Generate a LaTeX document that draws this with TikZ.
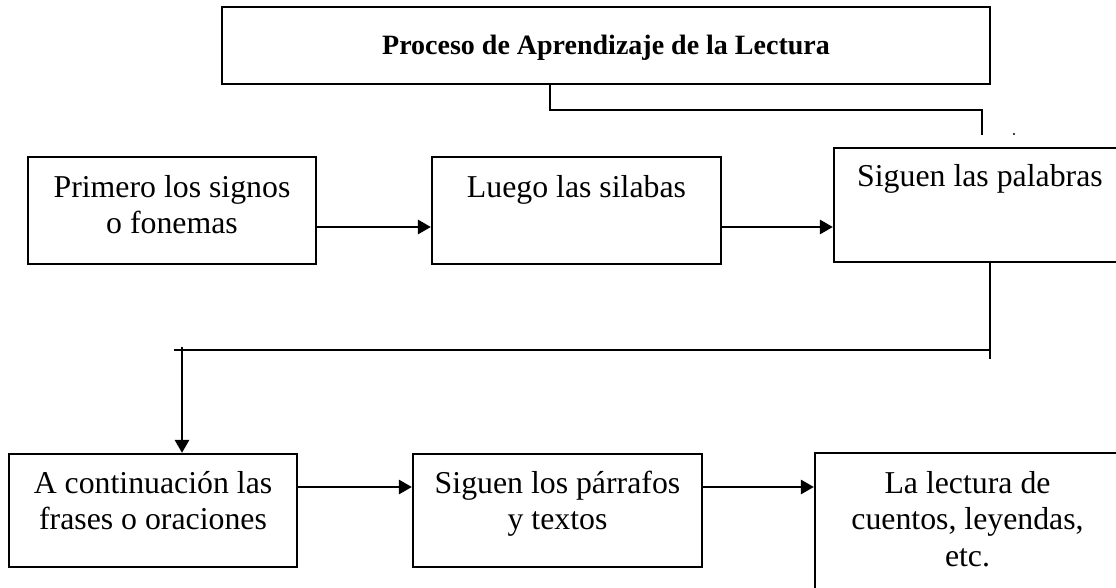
\documentclass[tikz,border=0pt]{standalone}
\usepackage{fontspec}
\setmainfont{Liberation Serif}
\usetikzlibrary{arrows.meta}
\begin{document}
\begin{tikzpicture}[x=1pt,y=-1pt,
  boxframe/.style={draw,line width=2.2pt,inner sep=0pt},
  txt/.style={font=\fontsize{31.8}{36.5}\selectfont,align=center,anchor=base,inner sep=0pt},
  link/.style={line width=2.2pt},
  flow/.style={line width=2.8pt,-{Triangle[length=13pt,width=14pt]}}]
\useasboundingbox (0,0) rectangle (1116,588);
\clip (0,0) rectangle (1116,588);
% boxes
\node[boxframe,minimum width=768pt,minimum height=77pt] (title) at (606,45.5) {};
\node[boxframe,minimum width=288pt,minimum height=107pt] (b1) at (172,210.5) {};
\node[boxframe,minimum width=289pt,minimum height=107pt] (b2) at (576.5,210.5) {};
\node[boxframe,minimum width=291pt,minimum height=114pt] (b3) at (979.5,205) {};
\node[boxframe,minimum width=288pt,minimum height=113pt] (bA) at (153,510.5) {};
\node[boxframe,minimum width=289pt,minimum height=113pt] (bB) at (557.5,510.5) {};
\node[boxframe,minimum width=305pt,minimum height=147pt] (bC) at (967.5,526.5) {};
% texts (base anchor = baseline of the last line)
\node[txt,font=\fontsize{28}{32}\selectfont\bfseries] (ttitle) at (606,55) {Proceso de Aprendizaje de la Lectura};
\node[txt] (t1) at (172,233.5) {Primero los signos\\o fonemas};
\node[txt] (t2) at (576.5,197) {Luego las silabas};
\node[txt,anchor=base west] (t3) at (857,186) {Siguen las palabras};
\node[txt] (tA) at (153,529.5) {A continuación las\\frases o oraciones};
\node[txt] (tB) at (557.5,529.5) {Siguen los párrafos\\y textos};
\node[txt] (tC) at (967.5,566) {La lectura de\\cuentos, leyendas,\\etc.};
% top connector
\coordinate (j1) at (550,110);
\coordinate (j2) at (982,110);
\coordinate (j3) at (982,135);
\draw[link] (title.south -| j1) -- (j1) -- (j2) -- (j3);
\node[fill,circle,inner sep=0pt,minimum size=2.4pt] (dot) at (1014,134) {};
% row 1 arrows
\coordinate (r1) at (0,227);
\draw[flow] (b1.east |- r1) -- (b2.west |- r1);
\draw[flow] (b2.east |- r1) -- (b3.west |- r1);
% down connector
\coordinate (k1) at (990,359);
\coordinate (h1) at (174,350);
\coordinate (h2) at (990,350);
\coordinate (d1) at (182,347);
\draw[link] (b3.south -| k1) -- (k1);
\draw[link] (h1) -- (h2);
\draw[flow] (d1) -- (d1 |- bA.north);
% row 3 arrows
\coordinate (r3) at (0,487);
\draw[flow] (bA.east |- r3) -- (bB.west |- r3);
\draw[flow] (bB.east |- r3) -- (bC.west |- r3);
\end{tikzpicture}
\end{document}
